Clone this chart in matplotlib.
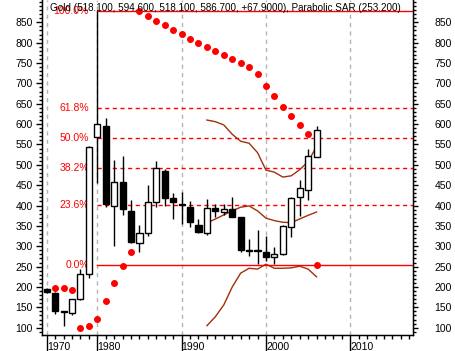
import matplotlib
matplotlib.use('Agg')
import matplotlib.pyplot as plt
import numpy as np

plt.rcParams['font.family'] = ['Liberation Sans', 'DejaVu Sans']

# yearly gold candles, 1974 .. 2006 (last one partial)
years = list(range(1974, 2007))
opens = [195, 185, 140, 135, 170, 231, 568, 596, 400, 457, 386, 309, 332, 409, 485, 418,
         403, 396, 352, 332, 393, 385, 391, 372, 291, 288, 287, 274, 280, 348, 422, 438, 518.1]
highs = [197, 187, 141, 170, 244, 546, 877, 614, 512, 521, 414, 352, 450, 509, 490, 430,
         433, 412, 367, 416, 405, 405, 420, 373, 319, 340, 325, 298, 352, 420, 462, 540, 594.6]
lows = [185, 133, 103, 130, 169, 222, 456, 397, 300, 378, 307, 287, 326, 396, 399, 366,
        354, 348, 333, 327, 373, 377, 371, 286, 276, 256, 264, 256, 279, 322, 374, 413, 518.1]
closes = [187, 141, 138, 170, 231, 545, 601, 403, 457, 391, 311, 333, 409, 491, 418, 408,
          401, 359, 336, 393, 387, 391, 373, 291, 289, 290, 274, 280, 349, 418, 442, 522, 586.7]

# parabolic SAR, 1975 .. 2006
sar_years = list(range(1975, 2007))
sar = [197, 197, 193, 100, 104, 122, 166, 210, 251, 287, 878, 866, 854, 843, 832, 822,
       809, 800, 789, 780, 770, 761, 751, 741, 724, 694, 670, 642, 621, 598, 576, 253.2]

# bands, 1993 .. 2006
band_years = list(range(1993, 2007))
band_upper = [610, 606, 598, 575, 558, 553, 530, 487, 482, 470, 473, 488, 508, 545]
band_mid = [357, 367, 377, 387, 396, 399, 387, 369, 363, 359, 358, 367, 376, 384]
band_lower = [105, 127, 156, 200, 234, 246, 244, 256, 246, 246, 247, 251, 244, 225]

# fibonacci retracement
swing_low = 255.0
swing_high = 877.0
swing_year = 1980
fib_pcts = [0.0, 23.6, 38.2, 50.0, 61.8, 100.0]

decade_labels = ['1970', '1980', '1990', '2000', '2010']
decade_years = [1974, 1980, 1990, 2000, 2010]

title = 'Gold (518.100, 594.600, 518.100, 586.700, +67.9000), Parabolic SAR (253.200)'

base = years[0]
x = np.array(years) - base
o = np.array(opens, dtype=float)
c = np.array(closes, dtype=float)

fig = plt.figure(figsize=(4.55, 3.51), dpi=100)
ax = fig.add_axes([42 / 455, 16 / 351, 371 / 455, 335 / 351])
ax.set_xlim(-0.56, 43.44)
ax.set_ylim(82.1, 904.8)

# grid
for yr in decade_years:
    ax.axvline(yr - base, color='#b4b4b4', lw=1, ls=(0, (3, 3)), zorder=0)

# bands
bx = np.array(band_years) - base
for b in (band_upper, band_mid, band_lower):
    ax.plot(bx, b, color='#a0300c', lw=1, zorder=2)

# fib lines
x0 = swing_year - base
for p in fib_pcts:
    lvl = swing_low + (swing_high - swing_low) * p / 100
    if p in (0.0, 100.0):
        ax.plot([x0, 50], [lvl, lvl], color='red', lw=1, zorder=3)
    else:
        ax.plot([x0, 50], [lvl, lvl], color='red', lw=1, ls=(0, (3, 2.5)), zorder=3)
    ax.text(x0 - 1.0, lvl, '%.1f%%' % p, color='red', fontsize=7.5,
            ha='right', va='center', zorder=4)

# candles
ax.vlines(x, lows, highs, color='black', lw=1, zorder=5)
up = c >= o
bottoms = np.minimum(o, c)
heights = np.maximum(np.abs(c - o), 1.0)
ax.bar(x[up], heights[up], bottom=bottoms[up], width=0.72, color='white',
       edgecolor='black', lw=1, zorder=6)
ax.bar(x[~up], heights[~up], bottom=bottoms[~up], width=0.72, color='black',
       edgecolor='black', lw=1, zorder=6)

# SAR
ax.plot(np.array(sar_years) - base, sar, 'o', color='red', ms=4.0, mec='red', zorder=7)

# axes styling
ax.spines['top'].set_visible(False)
for s in ('left', 'right', 'bottom'):
    ax.spines[s].set_linewidth(1)

ax.set_yticks(range(100, 851, 50))
ax.set_yticks(range(90, 901, 10), minor=True)
ax.tick_params(axis='y', which='major', length=4.3, width=1, labelsize=7.5, pad=2.2)
ax.tick_params(axis='y', which='minor', length=2.2, width=1)

ax2 = ax.twinx()
ax2.set_ylim(ax.get_ylim())
ax2.spines['top'].set_visible(False)
ax2.set_yticks(range(100, 851, 50))
ax2.set_yticks(range(90, 901, 10), minor=True)
ax2.tick_params(axis='y', which='major', length=3.6, width=1, labelsize=7.5, pad=12)
ax2.tick_params(axis='y', which='minor', length=2.2, width=1)

ax.set_xticks([yr - base for yr in decade_years])
ax.set_xticklabels(decade_labels, ha='left')
ax.set_xticks(np.arange(0, 44), minor=True)
ax.tick_params(axis='x', which='major', length=11.5, width=1, labelsize=7.5, pad=-6.5)
ax.tick_params(axis='x', which='minor', length=3, width=1)

fig.text(50 / 455, 1 - 8 / 351, title, fontsize=7.1, ha='left', va='center')

fig.savefig('out.png', dpi=100)
